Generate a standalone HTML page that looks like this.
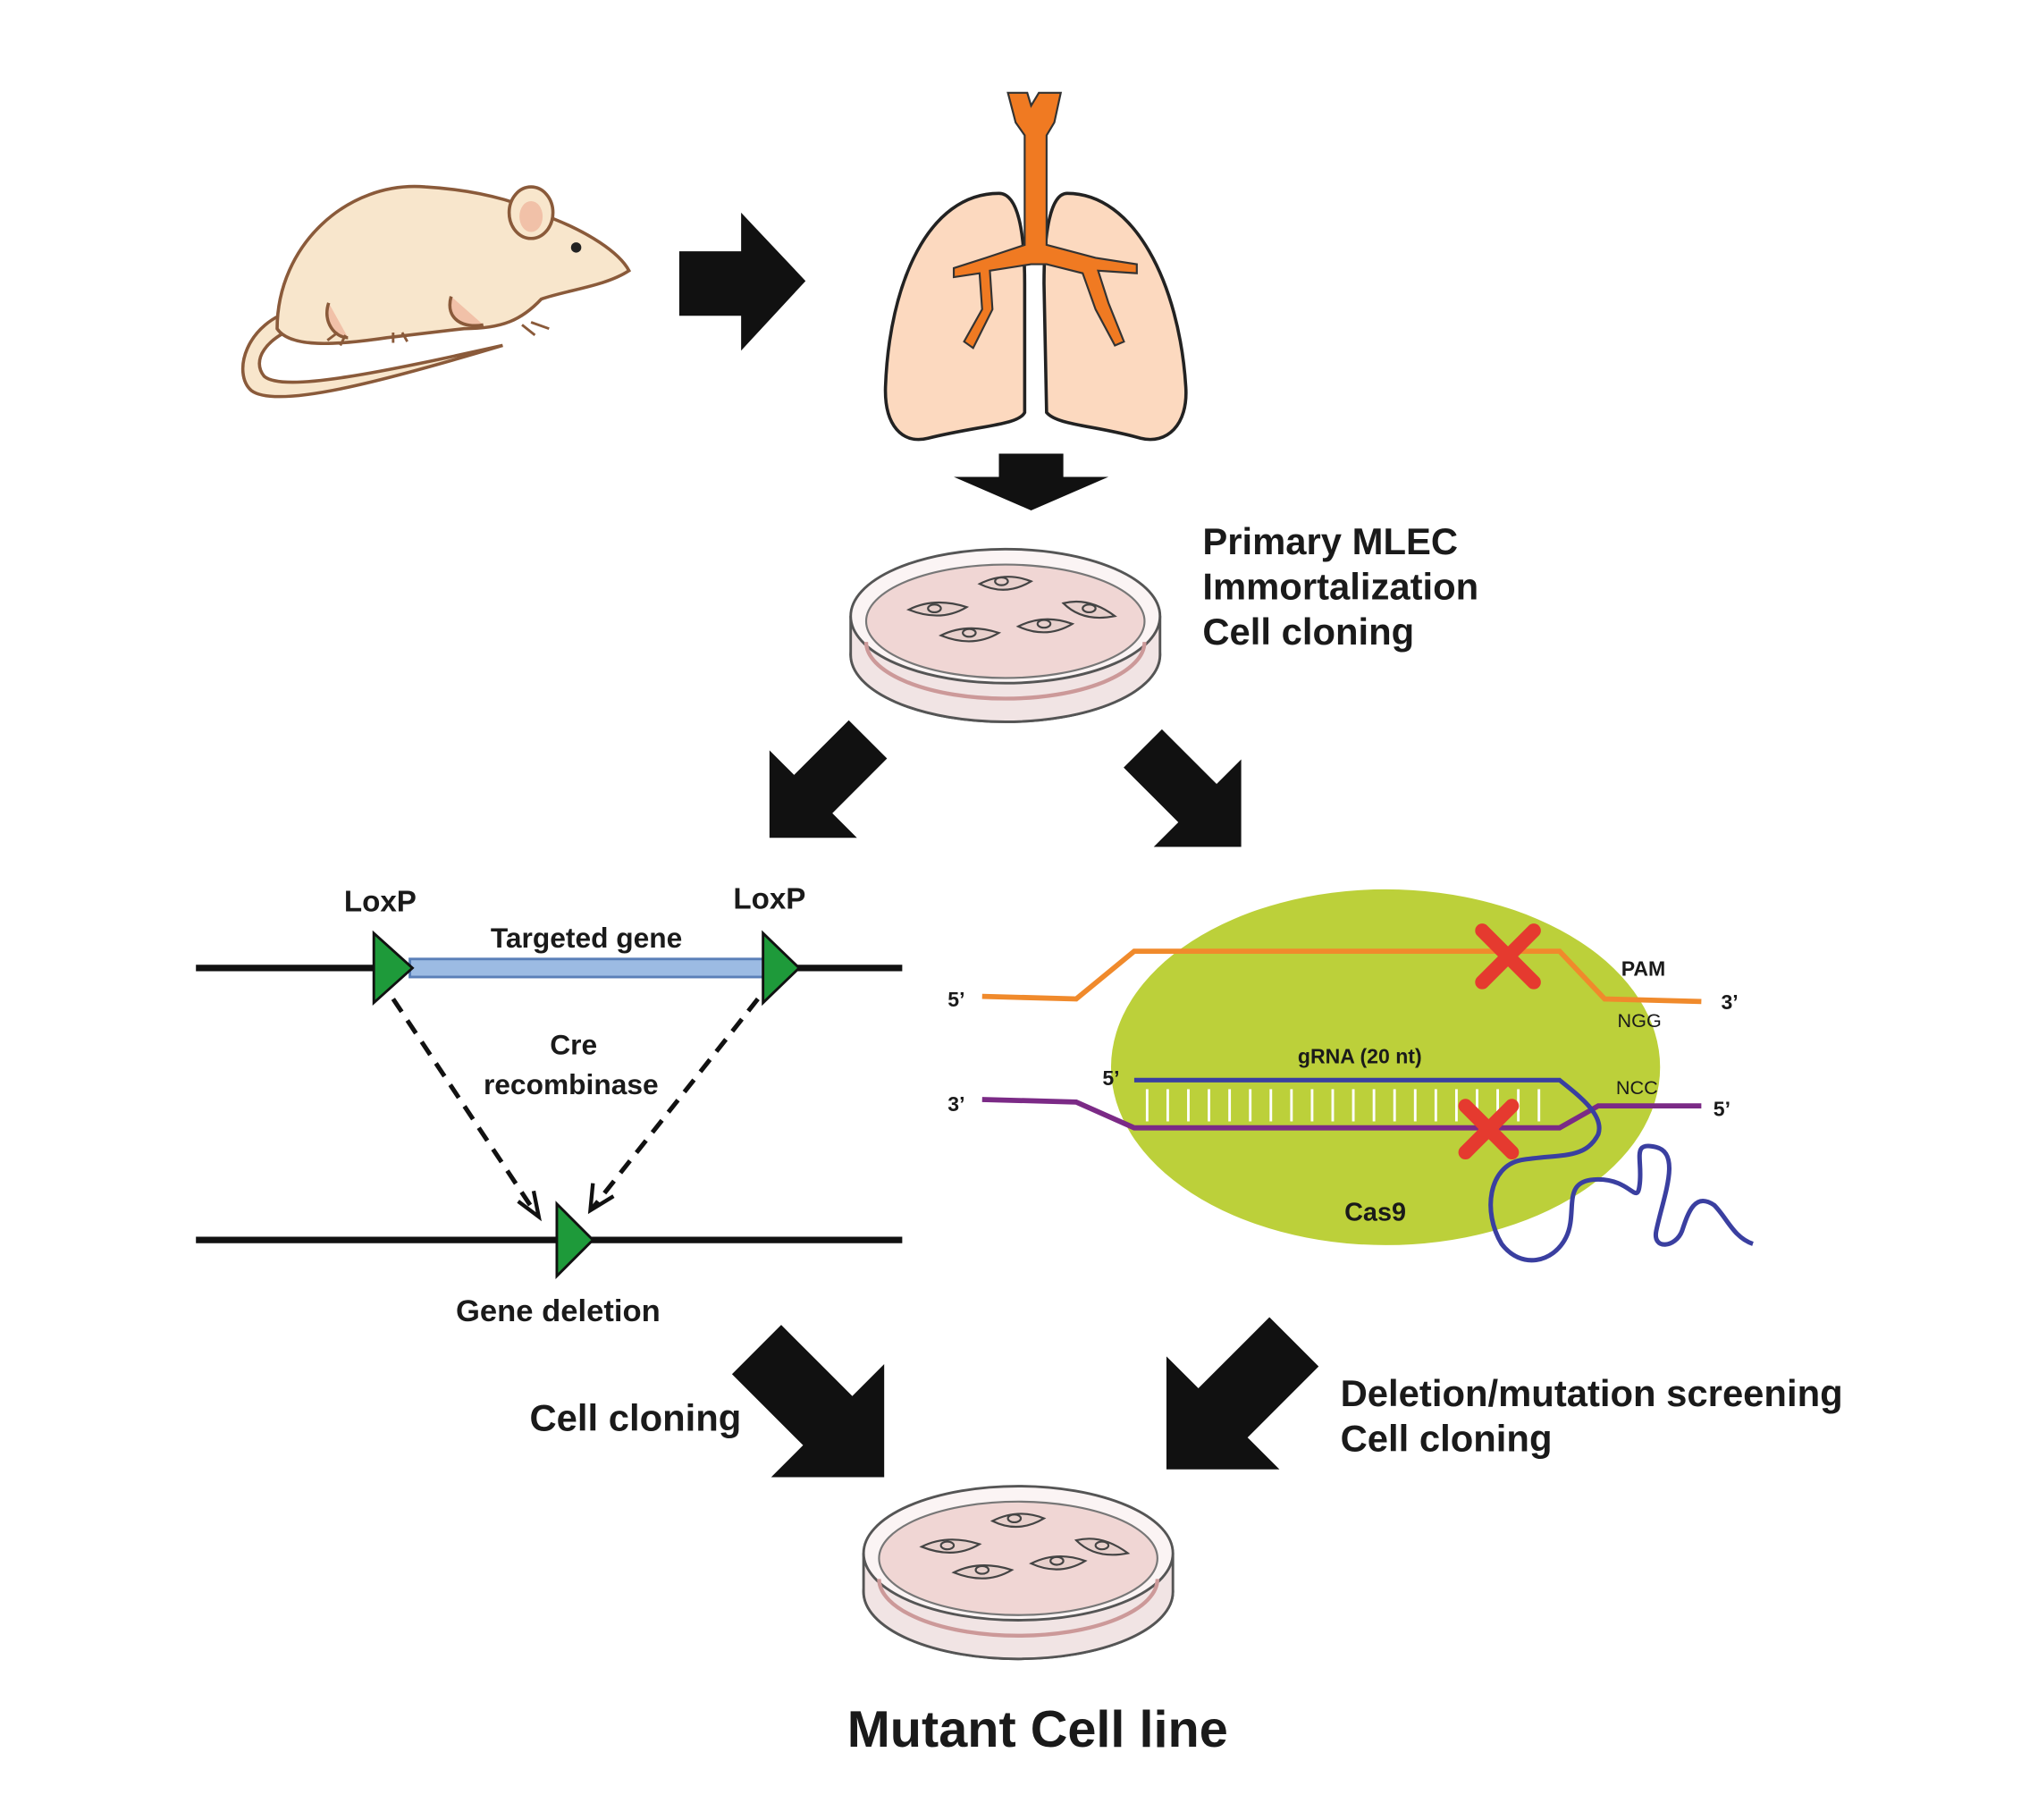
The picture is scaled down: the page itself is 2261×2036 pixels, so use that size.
<!DOCTYPE html>
<html><head><meta charset="utf-8"><style>
html,body{margin:0;padding:0;background:#fff;}
svg{display:block;}
text{font-family:"Liberation Sans",sans-serif;font-weight:bold;fill:#1a1a1a;}
</style></head><body>
<svg width="2261" height="2036" viewBox="0 0 1568 1412" xmlns="http://www.w3.org/2000/svg">
<defs>
<path id="arr" d="M0,0 L-62,-62 L-62,-27 L-140,-27 L-140,27 L-62,27 L-62,62 Z" fill="#111"/>
<path id="arr2" d="M0,0 L-48,-48 L-48,-21 L-108,-21 L-108,21 L-48,21 L-48,48 Z" fill="#111"/>
<g id="dish">
 <ellipse cx="0" cy="30" rx="120" ry="52" fill="#f3eded" stroke="#555" stroke-width="2"/>
 <path d="M-120,0 L-120,30 A120,52 0 0 0 120,30 L120,0" fill="#f1e4e4" stroke="#555" stroke-width="2"/>
 <ellipse cx="0" cy="0" rx="120" ry="52" fill="#fbf4f4" stroke="#555" stroke-width="2"/>
 <ellipse cx="0" cy="4" rx="108" ry="44" fill="#f0d6d4" stroke="#777" stroke-width="1.5"/>
 <path d="M-108,20 A108,44 0 0 0 108,20" fill="none" stroke="#c99" stroke-width="3"/>
 <g fill="#e8d0cc" stroke="#444" stroke-width="1.5">
  <path d="M-75,-5 q20,-10 45,-2 q-20,12 -45,2z"/><ellipse cx="-55" cy="-6" rx="5" ry="3"/>
  <path d="M-20,-25 q20,-10 40,-2 q-20,12 -40,2z"/><ellipse cx="-3" cy="-27" rx="5" ry="3"/>
  <path d="M45,-10 q20,-5 40,10 q-25,5 -40,-10z"/><ellipse cx="65" cy="-6" rx="5" ry="3"/>
  <path d="M-50,15 q20,-10 45,-2 q-20,12 -45,2z"/><ellipse cx="-28" cy="13" rx="5" ry="3"/>
  <path d="M10,8 q20,-10 42,-2 q-20,12 -42,2z"/><ellipse cx="30" cy="6" rx="5" ry="3"/>
 </g>
</g>
</defs>

<!-- Mouse -->
<g stroke="#8a5a3a" stroke-width="2.5" fill="#f8e6cc">
 <path d="M230,240 C190,250 180,290 195,303 C215,318 300,295 390,268 C300,288 220,305 205,292 C195,280 205,262 235,252 Z" fill="#f8e6cc"/>
 <path d="M215,255 C215,190 270,140 330,145 C380,148 410,160 430,170 C455,180 480,195 488,210 C470,222 440,225 420,232 C405,248 390,255 360,255 L300,262 C260,268 225,270 215,255 Z"/>
 <ellipse cx="412" cy="165" rx="17" ry="20"/>
 <ellipse cx="412" cy="168" rx="9" ry="12" fill="#f1c1a8" stroke="none"/>
 <path d="M255,235 C250,250 260,262 270,262" fill="#f1c1a8"/>
 <path d="M350,230 C345,248 360,255 375,252" fill="#f1c1a8"/>
</g>
<circle cx="447" cy="192" r="4" fill="#222"/>
<g stroke="#8a5a3a" stroke-width="2" fill="none">
 <path d="M262,258 l-8,6 M268,260 l-4,8 M305,258 l0,8 M312,258 l4,7 M405,252 l10,8 M412,250 l14,5"/>
</g>

<path d="M527,195 L575,195 L575,165 L625,218 L575,272 L575,245 L527,245 Z" fill="#111"/>

<!-- Lungs -->
<g stroke="#222" stroke-width="2.5" fill="#fcd9bf">
 <path d="M775,150 C720,150 690,220 687,300 C686,330 700,345 720,340 C760,330 790,330 795,320 L795,220 C795,180 790,150 775,150 Z"/>
 <path d="M828,150 C880,150 915,220 920,300 C922,330 905,345 885,340 C850,330 820,330 812,320 L810,220 C810,180 815,150 828,150 Z"/>
</g>
<g fill="#f07a22" stroke="#333" stroke-width="1.5">
 <path d="M782,72 L797,72 L800,82 L806,72 L823,72 L818,95 L812,105 L812,190 L850,200 L882,205 L882,212 L852,210 L860,235 L872,265 L865,268 L850,240 L840,212 L812,205 L800,205 L768,210 L770,240 L755,270 L748,265 L762,240 L760,212 L740,215 L740,208 L765,200 L795,190 L795,105 L788,95 Z"/>
</g>

<path d="M775,352 L825,352 L825,370 L860,370 L800,396 L740,370 L775,370 Z" fill="#111"/>

<use href="#dish" transform="translate(780,478)"/>
<text x="933" y="430" font-size="29">Primary MLEC</text>
<text x="933" y="465" font-size="29">Immortalization</text>
<text x="933" y="500" font-size="29">Cell cloning</text>

<use href="#arr2" transform="translate(597,650) rotate(135)"/>
<use href="#arr2" transform="translate(963,657) rotate(45)"/>
<use href="#arr" transform="translate(686,1146) rotate(45)"/>
<use href="#arr" transform="translate(905,1140) rotate(135)"/>

<!-- LoxP -->
<line x1="152" y1="751" x2="700" y2="751" stroke="#111" stroke-width="5"/>
<rect x="318" y="744" width="276" height="14" fill="#9cbbe3" stroke="#5a7fb8" stroke-width="2"/>
<path d="M290,724 L320,751 L290,778 Z" fill="#1e9a3a" stroke="#111" stroke-width="2"/>
<path d="M592,724 L620,751 L592,778 Z" fill="#1e9a3a" stroke="#111" stroke-width="2"/>
<text x="295" y="707" font-size="23" text-anchor="middle">LoxP</text>
<text x="597" y="705" font-size="23" text-anchor="middle">LoxP</text>
<text x="455" y="735" font-size="22" text-anchor="middle">Targeted gene</text>
<text x="445" y="818" font-size="22" text-anchor="middle">Cre</text>
<text x="443" y="849" font-size="22" text-anchor="middle">recombinase</text>
<g stroke="#111" stroke-width="3.5" fill="none" stroke-dasharray="12,8">
 <path d="M305,775 L416,942"/><path d="M588,775 L460,937"/>
</g>
<path d="M402,932 L418,944 L414,924" fill="none" stroke="#111" stroke-width="3"/>
<path d="M476,928 L458,939 L460,918" fill="none" stroke="#111" stroke-width="3"/>
<line x1="152" y1="962" x2="700" y2="962" stroke="#111" stroke-width="5"/>
<path d="M432,934 L460,962 L432,990 Z" fill="#1e9a3a" stroke="#111" stroke-width="2"/>
<text x="433" y="1025" font-size="24" text-anchor="middle">Gene deletion</text>

<!-- CRISPR -->
<ellipse cx="1075" cy="828" rx="213" ry="138" fill="#bcd03a"/>
<path d="M762,773 L835,775 L880,738 L1210,738 L1245,775 L1320,777" fill="none" stroke="#f08a2c" stroke-width="4"/>
<path d="M762,853 L835,855 L880,875 L1210,875 L1240,858 L1320,858" fill="none" stroke="#7b2a86" stroke-width="4"/>
<g stroke="#fff" stroke-width="2">
<line x1="890" y1="845" x2="890" y2="870"/><line x1="906" y1="845" x2="906" y2="870"/><line x1="922" y1="845" x2="922" y2="870"/><line x1="938" y1="845" x2="938" y2="870"/><line x1="954" y1="845" x2="954" y2="870"/><line x1="970" y1="845" x2="970" y2="870"/><line x1="986" y1="845" x2="986" y2="870"/><line x1="1002" y1="845" x2="1002" y2="870"/><line x1="1018" y1="845" x2="1018" y2="870"/><line x1="1034" y1="845" x2="1034" y2="870"/><line x1="1050" y1="845" x2="1050" y2="870"/><line x1="1066" y1="845" x2="1066" y2="870"/><line x1="1082" y1="845" x2="1082" y2="870"/><line x1="1098" y1="845" x2="1098" y2="870"/><line x1="1114" y1="845" x2="1114" y2="870"/><line x1="1130" y1="845" x2="1130" y2="870"/><line x1="1146" y1="845" x2="1146" y2="870"/><line x1="1162" y1="845" x2="1162" y2="870"/><line x1="1178" y1="845" x2="1178" y2="870"/><line x1="1194" y1="845" x2="1194" y2="870"/>
</g>
<path d="M880,838 L1210,838 C1225,850 1245,865 1240,880 C1230,900 1210,895 1180,900 C1155,905 1150,940 1165,965 C1180,985 1205,980 1215,960 C1225,940 1210,915 1240,915 C1265,915 1270,935 1272,920 C1275,900 1265,885 1285,890 C1305,895 1290,930 1285,955 C1282,970 1300,968 1305,955 C1310,940 1315,925 1330,935 C1340,945 1345,960 1360,965" fill="none" stroke="#3a3fa0" stroke-width="3.5"/>
<g stroke="#e53a2f" stroke-width="11" stroke-linecap="round">
 <path d="M1150,722 L1190,762 M1190,722 L1150,762"/>
 <path d="M1137,858 L1173,894 M1173,858 L1137,894"/>
</g>
<g font-size="16">
<text x="742" y="781" text-anchor="middle">5’</text>
<text x="1342" y="783" text-anchor="middle">3’</text>
<text x="742" y="862" text-anchor="middle">3’</text>
<text x="1336" y="866" text-anchor="middle">5’</text>
<text x="862" y="842" text-anchor="middle">5’</text>
<text x="1275" y="757" text-anchor="middle">PAM</text>
<text x="1055" y="825" text-anchor="middle">gRNA (20 nt)</text>
</g>
<text x="1272" y="797" font-size="15" text-anchor="middle" style="font-weight:normal">NGG</text>
<text x="1270" y="849" font-size="15" text-anchor="middle" style="font-weight:normal">NCC</text>
<text x="1067" y="947" font-size="20" text-anchor="middle">Cas9</text>

<text x="493" y="1110" font-size="29" text-anchor="middle">Cell cloning</text>
<text x="1040" y="1091" font-size="29">Deletion/mutation screening</text>
<text x="1040" y="1126" font-size="29">Cell cloning</text>

<use href="#dish" transform="translate(790,1205)"/>
<text x="805" y="1355" font-size="40" text-anchor="middle">Mutant Cell line</text>
</svg>
</body></html>
